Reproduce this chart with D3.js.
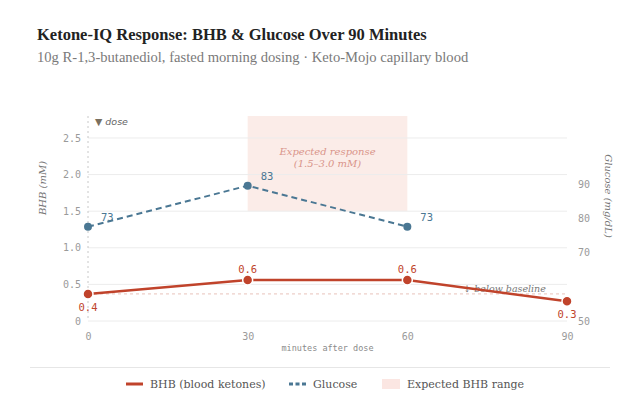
<!DOCTYPE html>
<html>
<head>
<meta charset="utf-8">
<script src="https://cdn.jsdelivr.net/npm/d3@7"></script>
<style>
  body { margin: 0; background: #fff; }
</style>
</head>
<body>
<div id="chart"></div>
<script>
(function () {

  // minutes after dose
  const minutes = [0, 30, 60, 90]
  const bhb = [0.37, 0.56, 0.56, 0.27]
  const bhbLabels = ['0.4', '0.6', '0.6', '0.3']
  const glucose = [73, 83, 73]
  const glucoseMinutes = [0, 30, 60]
  const bhbTicks = [0, 0.5, 1.0, 1.5, 2.0, 2.5]
  const glucoseTicks = [50, 70, 80, 90]
  const xTicks = [0, 30, 60, 90]
  const expectedRange = { from: 30, to: 60, low: 1.5, high: 2.8 }
  const baseline = 0.37

  const W = 638, H = 408
  const margin = { top: 116, right: 71, bottom: 87, left: 88 }
  const width = W - margin.left - margin.right
  const height = H - margin.top - margin.bottom

  const red = '#c0432b'
  const blue = '#4a7793'
  const grey = '#9a9a9a'
  const serif = 'DejaVu Serif, serif'
  const mono = 'DejaVu Sans Mono, monospace'

  const root = d3.select('#chart').append('svg')
      .attr('width', W)
      .attr('height', H)
      .attr('font-family', serif)

  root.append('text')
    .attr('x', 37).attr('y', 40)
    .attr('font-family', 'Liberation Serif, serif')
    .attr('font-size', 16.5).attr('font-weight', 'bold')
    .attr('fill', '#222')
    .text('Ketone-IQ Response: BHB & Glucose Over 90 Minutes')

  root.append('text')
    .attr('x', 37).attr('y', 62)
    .attr('font-family', 'Liberation Serif, serif')
    .attr('font-size', 14.6)
    .attr('fill', '#7a7a7a')
    .text('10g R-1,3-butanediol, fasted morning dosing · Keto-Mojo capillary blood')

  const svg = root.append('g')
      .attr('transform', 'translate(' + margin.left + ',' + margin.top + ')')

  const x = d3.scaleLinear().domain([0, 90]).range([0, width])
  const y = d3.scaleLinear().domain([0, 2.8]).range([height, 0])
  // glucose marks and glucose axis don't quite share a scale in the original
  const yGlu = d3.scaleLinear().domain([50, 100]).range([height, 0])
  const yGluAxis = d3.scaleLinear().domain([50, 110]).range([height, 0])

  // expected range band
  svg.append('rect')
    .attr('x', x(expectedRange.from))
    .attr('y', y(expectedRange.high))
    .attr('width', x(expectedRange.to) - x(expectedRange.from))
    .attr('height', y(expectedRange.low) - y(expectedRange.high))
    .attr('fill', '#fbece8')

  svg.append('text')
    .attr('x', (x(30) + x(60)) / 2).attr('y', 39)
    .attr('text-anchor', 'middle')
    .attr('font-size', 10).attr('font-style', 'italic')
    .attr('fill', '#d9948a')
    .text('Expected response')
  svg.append('text')
    .attr('x', (x(30) + x(60)) / 2).attr('y', 51)
    .attr('text-anchor', 'middle')
    .attr('font-size', 10).attr('font-style', 'italic')
    .attr('fill', '#d9948a')
    .text('(1.5–3.0 mM)')

  // gridlines
  svg.append('g')
    .selectAll('line')
    .data(bhbTicks)
    .join('line')
    .attr('x1', 0).attr('x2', width)
    .attr('y1', d => y(d)).attr('y2', d => y(d))
    .attr('stroke', '#ececec')

  // left axis
  const yAxis = d3.axisLeft(y).tickValues(bhbTicks).tickSize(0).tickPadding(7)
    .tickFormat(d => d === 0 ? '0' : d3.format('.1f')(d))
  svg.append('g')
    .attr('class', 'axis y-axis')
    .call(yAxis)
    .call(g => g.select('.domain').remove())
    .selectAll('text')
    .attr('font-family', mono)
    .attr('font-size', 10).attr('fill', grey)

  // right axis
  const yAxisRight = d3.axisRight(yGluAxis).tickValues(glucoseTicks).tickSize(0).tickPadding(11)
  svg.append('g')
    .attr('class', 'axis y-axis-right')
    .attr('transform', 'translate(' + width + ',0)')
    .call(yAxisRight)
    .call(g => g.select('.domain').remove())
    .selectAll('text')
    .attr('font-family', mono)
    .attr('font-size', 10).attr('fill', grey)

  // bottom axis
  const xAxis = d3.axisBottom(x).tickValues(xTicks).tickSize(0).tickPadding(12)
  svg.append('g')
    .attr('class', 'axis x-axis')
    .attr('transform', 'translate(0,' + height + ')')
    .call(xAxis)
    .call(g => g.select('.domain').remove())
    .selectAll('text')
    .attr('font-family', mono)
    .attr('font-size', 10).attr('fill', grey)

  svg.append('text')
    .attr('x', width / 2).attr('y', height + 30)
    .attr('text-anchor', 'middle')
    .attr('font-family', mono)
    .attr('font-size', 8.5).attr('fill', '#8a8a8a')
    .text('minutes after dose')

  // axis titles
  svg.append('text')
    .attr('transform', 'translate(-42,72) rotate(-90)')
    .attr('text-anchor', 'middle')
    .attr('font-size', 10).attr('font-style', 'italic')
    .attr('fill', '#777')
    .text('BHB (mM)')

  svg.append('text')
    .attr('transform', 'translate(' + (width + 38) + ',80) rotate(90)')
    .attr('text-anchor', 'middle')
    .attr('font-size', 10).attr('font-style', 'italic')
    .attr('fill', '#777')
    .text('Glucose (mg/dL)')

  // dose marker
  svg.append('line')
    .attr('x1', x(0)).attr('x2', x(0))
    .attr('y1', 0).attr('y2', height)
    .attr('stroke', '#c8c8c8').attr('stroke-dasharray', '2,3')
  svg.append('text')
    .attr('x', x(0) + 7).attr('y', 9)
    .attr('font-family', 'DejaVu Sans, sans-serif')
    .attr('font-size', 9.5).attr('font-style', 'italic')
    .attr('fill', '#666')
    .call(t => t.append('tspan').attr('fill', '#7a7060').attr('font-style', 'normal').text('▼'))
    .call(t => t.append('tspan').attr('dx', 3).text('dose'))

  // baseline
  svg.append('line')
    .attr('x1', 0).attr('x2', width)
    .attr('y1', y(baseline)).attr('y2', y(baseline))
    .attr('stroke', '#e8c2ba').attr('stroke-dasharray', '3,3')
  svg.append('text')
    .attr('x', x(70.5)).attr('y', y(baseline) - 2)
    .attr('font-size', 9.5).attr('font-style', 'italic')
    .attr('fill', '#777')
    .text('↓ below baseline')

  // glucose line
  const gluData = glucoseMinutes.map((m, i) => ({ m: m, v: glucose[i] }))
  const gluLine = d3.line().x(d => x(d.m)).y(d => yGlu(d.v))
  svg.append('path')
    .datum(gluData)
    .attr('d', gluLine)
    .attr('fill', 'none')
    .attr('stroke', blue).attr('stroke-width', 2)
    .attr('stroke-dasharray', '6,4')
  svg.selectAll('.glu-dot')
    .data(gluData)
    .join('circle')
    .attr('class', 'glu-dot')
    .attr('cx', d => x(d.m)).attr('cy', d => yGlu(d.v))
    .attr('r', 4).attr('fill', blue)
  svg.selectAll('.glu-label')
    .data(gluData)
    .join('text')
    .attr('class', 'glu-label')
    .attr('x', d => x(d.m) + 13).attr('y', d => yGlu(d.v) - 6)
    .attr('font-family', mono)
    .attr('font-size', 10.5)
    .attr('fill', blue)
    .text(d => d.v)

  // bhb line
  const bhbData = minutes.map((m, i) => ({ m: m, v: bhb[i], label: bhbLabels[i] }))
  const bhbLine = d3.line().x(d => x(d.m)).y(d => y(d.v))
  svg.append('path')
    .datum(bhbData)
    .attr('d', bhbLine)
    .attr('fill', 'none')
    .attr('stroke', red).attr('stroke-width', 2.5)
  svg.selectAll('.bhb-dot')
    .data(bhbData)
    .join('circle')
    .attr('class', 'bhb-dot')
    .attr('cx', d => x(d.m)).attr('cy', d => y(d.v))
    .attr('r', 5).attr('fill', red)
    .attr('stroke', '#fff').attr('stroke-width', 1.5)
  svg.selectAll('.bhb-label')
    .data(bhbData)
    .join('text')
    .attr('class', 'bhb-label')
    .attr('x', d => x(d.m)).attr('y', (d, i) => (i === 0 || i === 3) ? y(d.v) + 17 : y(d.v) - 7)
    .attr('text-anchor', 'middle')
    .attr('font-family', mono)
    .attr('font-size', 10.5)
    .attr('fill', red)
    .text(d => d.label)

  // legend
  root.append('line')
    .attr('x1', 30).attr('x2', 610)
    .attr('y1', 367.5).attr('y2', 367.5)
    .attr('stroke', '#e6e6e6')

  const legend = root.append('g').attr('transform', 'translate(0,384)')
  legend.append('line')
    .attr('x1', 126).attr('x2', 143).attr('y1', 0).attr('y2', 0)
    .attr('stroke', red).attr('stroke-width', 3)
  legend.append('text')
    .attr('x', 150).attr('y', 4).attr('font-size', 11).attr('fill', '#555')
    .text('BHB (blood ketones)')
  legend.append('line')
    .attr('x1', 289).attr('x2', 307).attr('y1', 0).attr('y2', 0)
    .attr('stroke', blue).attr('stroke-width', 3).attr('stroke-dasharray', '4,2.5')
  legend.append('text')
    .attr('x', 313).attr('y', 4).attr('font-size', 11).attr('fill', '#555')
    .text('Glucose')
  legend.append('rect')
    .attr('x', 382).attr('y', -5).attr('width', 18).attr('height', 10)
    .attr('fill', '#fbe6e2')
  legend.append('text')
    .attr('x', 407).attr('y', 4).attr('font-size', 11).attr('fill', '#555')
    .text('Expected BHB range')

})();
</script>
</body>
</html>
